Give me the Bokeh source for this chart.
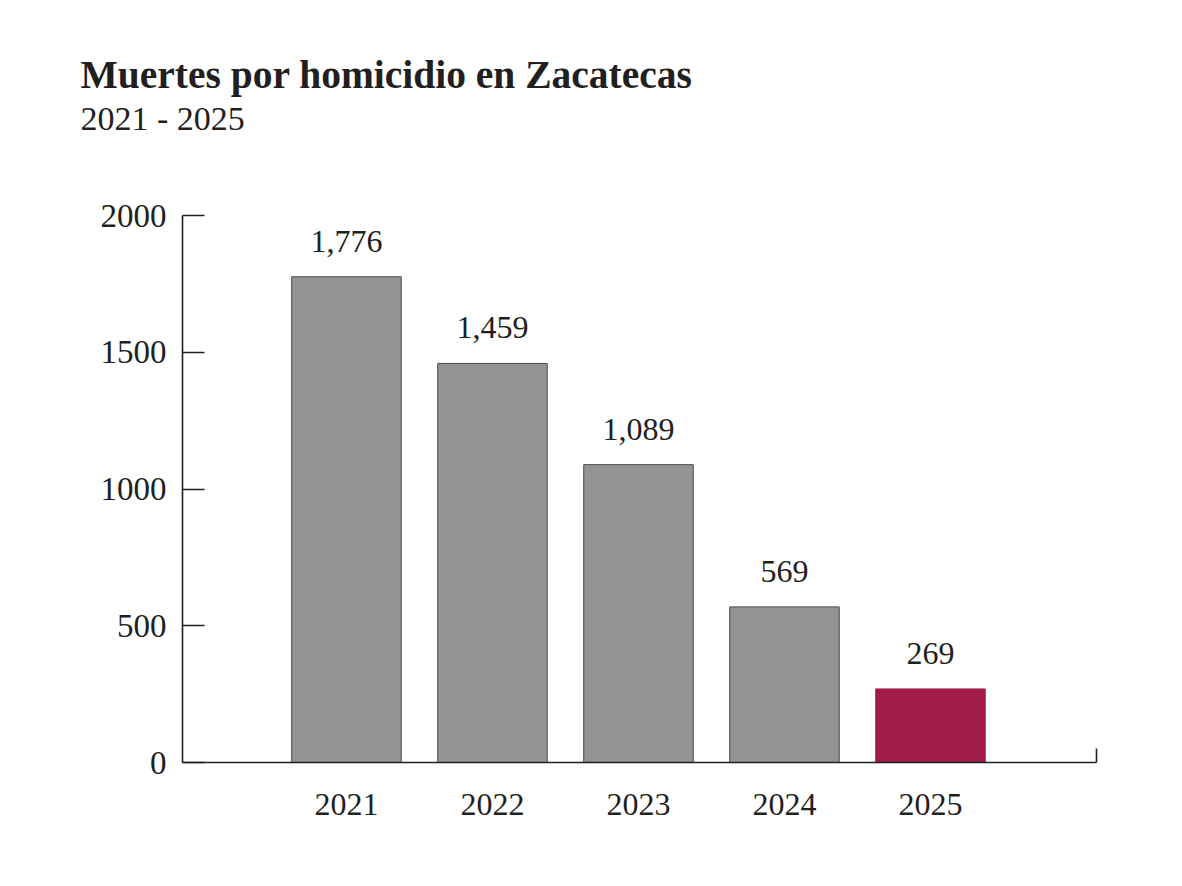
from bokeh.plotting import figure
from bokeh.models import (Range1d, FixedTicker, LinearAxis, Title, ColumnDataSource,
                          LabelSet, CustomJSTickFormatter)
from bokeh.embed import file_html
from bokeh.resources import INLINE

# ---- data ----
years = [2021, 2022, 2023, 2024, 2025]
deaths = [1776, 1459, 1089, 569, 269]
bar_colors = ["#959396", "#959396", "#959396", "#959396", "#a31c48"]
bar_lines = ["#4a4a4a", "#4a4a4a", "#4a4a4a", "#4a4a4a", "#a31c48"]
y_ticks = [0, 500, 1000, 1500, 2000]
title_text = "Muertes por homicidio en Zacatecas"
subtitle_text = "2021 - 2025"

labels = [f"{v:,}" for v in deaths]
SERIF = "Liberation Serif"
INK = "#231f20"

x_start, x_end = years[0] - 1.123, years[-1] + 1.137

p = figure(width=1166, height=870,
           x_range=Range1d(x_start, x_end), y_range=Range1d(0, 2000),
           output_backend="svg", toolbar_location=None,
           min_border_left=182, min_border_right=70,
           min_border_top=215, min_border_bottom=108,
           x_axis_location=None, y_axis_location=None)
p.background_fill_color = "white"
p.border_fill_color = "white"
p.outline_line_color = None
p.xgrid.visible = False
p.ygrid.visible = False

src = ColumnDataSource(dict(x=years, top=deaths, fill=bar_colors, line=bar_lines, lab=labels))
p.vbar(x="x", top="top", width=0.75, bottom=0, source=src,
       fill_color="fill", line_color="line", line_width=1)

p.add_layout(LabelSet(x="x", y="top", text="lab", source=src, y_offset=25,
                      text_align="center", text_baseline="alphabetic",
                      text_font=SERIF, text_font_size="32px", text_color=INK))

# y axis
yax = LinearAxis(ticker=FixedTicker(ticks=y_ticks))
yax.axis_line_color = INK
yax.axis_line_width = 1.6
yax.major_tick_in = 22
yax.major_tick_out = 0
yax.major_tick_line_color = INK
yax.major_tick_line_width = 1.6
yax.minor_tick_line_color = None
yax.major_label_standoff = 16
yax.major_label_text_font = SERIF
yax.major_label_text_font_size = "33px"
yax.major_label_text_color = INK
p.add_layout(yax, "left")

# x axis line with end tick
xax = LinearAxis(ticker=FixedTicker(ticks=[x_end]),
                 formatter=CustomJSTickFormatter(code="return ''"))
xax.axis_line_color = INK
xax.axis_line_width = 1.6
xax.major_tick_in = 14
xax.major_tick_out = 0
xax.major_tick_line_color = INK
xax.major_tick_line_width = 1.6
xax.minor_tick_line_color = None
xax.major_label_standoff = 0
p.add_layout(xax, "below")

# year labels
lax = LinearAxis(ticker=FixedTicker(ticks=years),
                 major_label_overrides={y: str(y) for y in years})
lax.axis_line_color = None
lax.major_tick_line_color = None
lax.minor_tick_line_color = None
lax.major_label_standoff = 25
lax.major_label_text_font = SERIF
lax.major_label_text_font_size = "32px"
lax.major_label_text_color = INK
p.add_layout(lax, "below")

# titles: first added is closest to frame
p.add_layout(Title(text=subtitle_text, align="left", offset=-102, standoff=158,
                   text_font=SERIF, text_font_size="34px", text_font_style="normal",
                   text_color=INK), "above")
p.add_layout(Title(text=title_text, align="left", offset=-102, standoff=-156,
                   text_font=SERIF, text_font_size="39.5px", text_font_style="bold",
                   text_color=INK), "above")

open("out.html", "w").write(file_html(p, INLINE))
